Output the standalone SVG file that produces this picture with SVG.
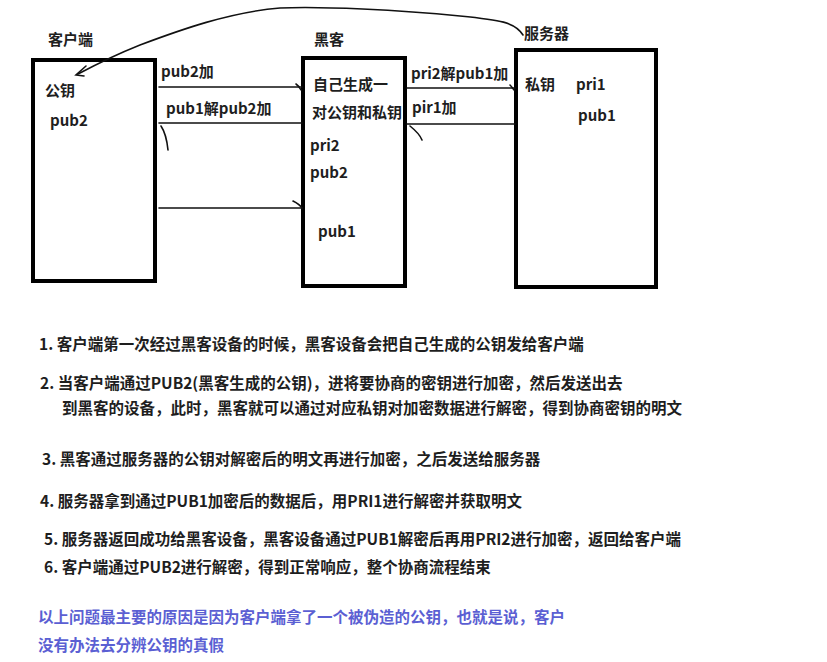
<svg xmlns="http://www.w3.org/2000/svg" width="827" height="662" viewBox="0 0 827 662">
<style>
.box{fill:#fff;stroke:#000;stroke-width:4}
.t{font-family:"Noto Sans CJK SC","Noto Sans",sans-serif;font-weight:700;font-size:15px;fill:#1e1e1e}
.b{font-family:"Noto Sans CJK SC","Noto Sans",sans-serif;font-weight:700;font-size:15.5px;fill:#1e1e1e}
.blue{fill:#5b5fd3}
.ln{fill:none;stroke:#111;stroke-width:1.6;stroke-linecap:round}
</style>
<rect width="827" height="662" fill="#fff"/>
<g id="client">
<rect class="box" x="33" y="60" width="122" height="221"/>
<text class="t" x="48" y="45">客户端</text>
<text class="t" x="45" y="96">公钥</text>
<text class="t" x="50" y="126">pub2</text>
</g>
<g id="hacker">
<rect class="box" x="303" y="58" width="102" height="228"/>
<text class="t" x="314" y="45">黑客</text>
<text class="t" x="313" y="90">自己生成一</text>
<text class="t" x="312" y="118">对公钥和私钥</text>
<text class="t" x="310" y="151">pri2</text>
<text class="t" x="310" y="178">pub2</text>
<text class="t" x="318" y="237">pub1</text>
</g>
<g id="server">
<rect class="box" x="516" y="50" width="140" height="237"/>
<text class="t" x="524" y="39">服务器</text>
<text class="t" x="525" y="90">私钥</text>
<text class="t" x="576" y="90">pri1</text>
<text class="t" x="578" y="121">pub1</text>
</g>
<g id="connectors">
<path class="ln" d="M523,35 C515,22 500,20 460,16 C400,10 320,6 280,8 C230,12 180,30 140,45 C115,55 95,65 78,74"/>
<path class="ln" d="M86,66 L76,75 L84,76"/>
<path class="ln" d="M159,87 L302,87"/>
<path class="ln" d="M296,84 C299,86 300,88 301,90"/>
<text class="t" x="161" y="77">pub2加</text>
<path class="ln" d="M159,123 L302,123"/>
<path class="ln" d="M161,126 C165,132 167,140 168,150"/>
<text class="t" x="166" y="114">pub1解pub2加</text>
<path class="ln" d="M159,208 L302,208"/>
<path class="ln" d="M293,201 C297,203 300,205 302,208"/>
<path class="ln" d="M407,88 L515,88"/>
<path class="ln" d="M510,85 C512,87 513,89 514,90"/>
<text class="t" x="411" y="79">pri2解pub1加</text>
<path class="ln" d="M407,124 L515,124"/>
<path class="ln" d="M410,126 C415,130 420,135 422,140"/>
<text class="t" x="412" y="113">pir1加</text>
</g>
<g id="notes">
<text class="b" x="39" y="350">1. 客户端第一次经过黑客设备的时候，黑客设备会把自己生成的公钥发给客户端</text>
<text class="b" x="40" y="389">2. 当客户端通过PUB2(黑客生成的公钥)，进将要协商的密钥进行加密，然后发送出去</text>
<text class="b" x="62" y="414">到黑客的设备，此时，黑客就可以通过对应私钥对加密数据进行解密，得到协商密钥的明文</text>
<text class="b" x="42" y="465">3. 黑客通过服务器的公钥对解密后的明文再进行加密，之后发送给服务器</text>
<text class="b" x="40" y="507">4. 服务器拿到通过PUB1加密后的数据后，用PRI1进行解密并获取明文</text>
<text class="b" x="44" y="545">5. 服务器返回成功给黑客设备，黑客设备通过PUB1解密后再用PRI2进行加密，返回给客户端</text>
<text class="b" x="44" y="573">6. 客户端通过PUB2进行解密，得到正常响应，整个协商流程结束</text>
<text class="b blue" x="38" y="623">以上问题最主要的原因是因为客户端拿了一个被伪造的公钥，也就是说，客户</text>
<text class="b blue" x="38" y="651">没有办法去分辨公钥的真假</text>
</g>
</svg>
